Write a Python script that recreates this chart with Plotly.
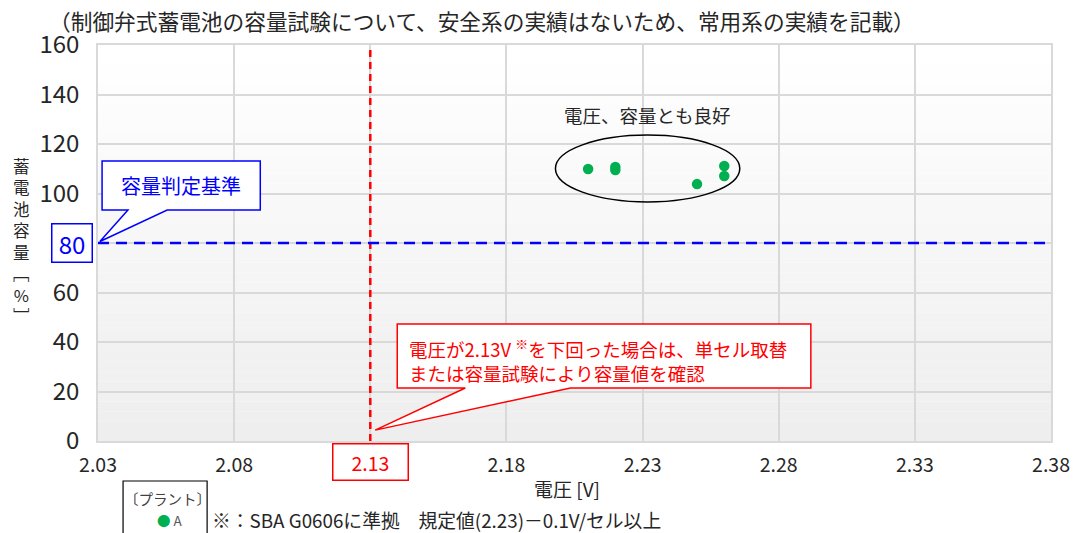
import plotly.graph_objects as go

# ---- data ----
plant_name = "A"
voltage = [2.210, 2.220, 2.220, 2.250, 2.260, 2.260]
capacity = [109.9, 110.7, 109.5, 103.8, 111.1, 107.1]
x_ticks = [2.03, 2.08, 2.13, 2.18, 2.23, 2.28, 2.33, 2.38]
y_ticks = [0, 20, 40, 60, 80, 100, 120, 140, 160]
voltage_threshold = 2.13
capacity_threshold = 80

FONT = "Noto Sans CJK JP"
GREEN = "#00b050"
RED = "#ff0000"
BLUE = "#0000ff"
TXT = "#262626"

fig = go.Figure()

fig.add_trace(go.Scatter(
    x=voltage, y=capacity, mode="markers", name=plant_name,
    marker=dict(color=GREEN, size=10.5, line=dict(width=0)),
    showlegend=False, hoverinfo="x+y"))

shapes = []
# gradient background of the plot area
n = 40
for i in range(n):
    t = i / (n - 1)
    v = int(round(255 - (255 - 238) * (1 - t)))
    shapes.append(dict(type="rect", xref="x domain", yref="y domain",
                       x0=0, x1=1, y0=i / n, y1=(i + 1) / n,
                       fillcolor=f"rgb({v},{v},{v})", line=dict(width=0),
                       layer="below"))

# threshold lines
shapes.append(dict(type="line", xref="x", yref="y",
                   x0=voltage_threshold, x1=voltage_threshold, y0=0, y1=159,
                   line=dict(color=RED, width=2.5, dash="7px,5px")))
shapes.append(dict(type="line", xref="x", yref="y",
                   x0=x_ticks[0], x1=x_ticks[-1], y0=capacity_threshold, y1=capacity_threshold,
                   line=dict(color=BLUE, width=2.5, dash="11px,7px")))

# ellipse around the points
shapes.append(dict(type="circle", xref="x", yref="y",
                   x0=2.198, x1=2.2657, y0=96.6, y1=123.6,
                   line=dict(color="#000000", width=1.5)))

# blue callout (容量判定基準)
bl, br, bt, bb = 2.0315, 2.0896, 113.1, 93.3
shapes.append(dict(type="path", xref="x", yref="y",
                   path=(f"M {bl},{bt} L {br},{bt} L {br},{bb} L 2.0554,{bb} "
                         f"L 2.0307,80.6 L 2.0410,{bb} L {bl},{bb} Z"),
                   fillcolor="white", line=dict(color=BLUE, width=1.5)))

# red callout
rl, rr, rt, rb = 2.1399, 2.2918, 47.3, 21.4
shapes.append(dict(type="path", xref="x", yref="y",
                   path=(f"M {rl},{rt} L {rr},{rt} L {rr},{rb} L 2.2035,{rb} "
                         f"L 2.1318,4.4 L 2.1649,{rb} L {rl},{rb} Z"),
                   fillcolor="white", line=dict(color=RED, width=1.5)))

# legend box
shapes.append(dict(type="rect", xref="paper", yref="paper",
                   x0=0.0263, x1=0.1145, y0=-0.26, y1=-0.101,
                   line=dict(color="#000000", width=1.2), fillcolor="white"))


def ann(text, x, y, xref, yref, size, color, **kw):
    d = dict(text=text, x=x, y=y, xref=xref, yref=yref, showarrow=False,
             xanchor="center", yanchor="middle",
             font=dict(family=FONT, size=size, color=color))
    d.update(kw)
    return d


annotations = []
annotations.append(ann("容量判定基準", 2.0605, 103.4, "x", "y", 20, BLUE))
annotations.append(ann("80", -0.0273, capacity_threshold, "paper", "y", 24, BLUE,
                       bordercolor=BLUE, borderwidth=1.5, borderpad=1, width=37,
                       bgcolor="white"))
annotations.append(ann("2.13", voltage_threshold, -0.053, "x", "paper", 19.5, RED,
                       bordercolor=RED, borderwidth=1.5, borderpad=3, width=68,
                       bgcolor="white"))
annotations.append(ann("電圧、容量とも良好", 2.2318, 131.7, "x", "y", 18.5, TXT))
annotations.append(ann(("電圧が2.13V <sup>※</sup>を下回った場合は、単セル取替<br>"
                        "または容量試験により容量値を確認"),
                       2.1436, 32.7, "x", "y", 18.5, RED, xanchor="left", align="left"))
# stacked vertical y-axis title
ytitle_chars = ["蓄", "電", "池", "容", "量", "﹇", "%", "﹈"]
annotations.append(ann("<br>".join(ytitle_chars), -0.0798, 0.506, "paper", "paper",
                       16.5, TXT))
annotations.append(ann("電圧 [V]", 0.4926, -0.121, "paper", "paper", 19, TXT))
annotations.append(ann("〔プラント〕", 0.0725, -0.144, "paper", "paper", 14.5, "#404040"))
annotations.append(ann(f"<span style='color:{GREEN}'>●</span> {plant_name}",
                       0.0755, -0.199, "paper", "paper", 13.5, "#595959"))
annotations.append(ann("※：SBA G0606に準拠\u3000規定値(2.23)－0.1V/セル以上",
                       (210 - 98) / 952, -0.199, "paper", "paper", 18.8, TXT, xanchor="left"))

x_text = ["" if abs(v - voltage_threshold) < 1e-9 else f"{v:.2f}" for v in x_ticks]
y_text = ["" if v == capacity_threshold else str(v) for v in y_ticks]

fig.update_layout(
    width=1080, height=533,
    margin=dict(l=90, r=37, t=37, b=100),
    paper_bgcolor="white", plot_bgcolor="white",
    font=dict(family=FONT, color=TXT),
    title=dict(text="（制御弁式蓄電池の容量試験について、安全系の実績はないため、常用系の実績を記載）",
               x=0.038, xanchor="left", y=0.973, yanchor="middle",
               font=dict(family=FONT, size=21.7, color=TXT)),
    xaxis=dict(range=[x_ticks[0], x_ticks[-1]], tickvals=x_ticks, ticktext=x_text,
               showgrid=True, gridcolor="#d9d9d9", gridwidth=1.5,
               showline=True, linecolor="#d9d9d9", linewidth=1.5, mirror=True,
               zeroline=False, ticks="", ticklabelstandoff=6,
               tickfont=dict(family=FONT, size=19.5, color=TXT)),
    yaxis=dict(range=[y_ticks[0], y_ticks[-1]], tickvals=y_ticks, ticktext=y_text,
               showgrid=True, gridcolor="#d9d9d9", gridwidth=1.5,
               showline=True, linecolor="#d9d9d9", linewidth=1.5, mirror=True,
               zeroline=False, ticks="", ticklabelstandoff=12,
               tickfont=dict(family=FONT, size=24, color=TXT)),
    shapes=shapes, annotations=annotations,
)

fig.write_html("out.html")
